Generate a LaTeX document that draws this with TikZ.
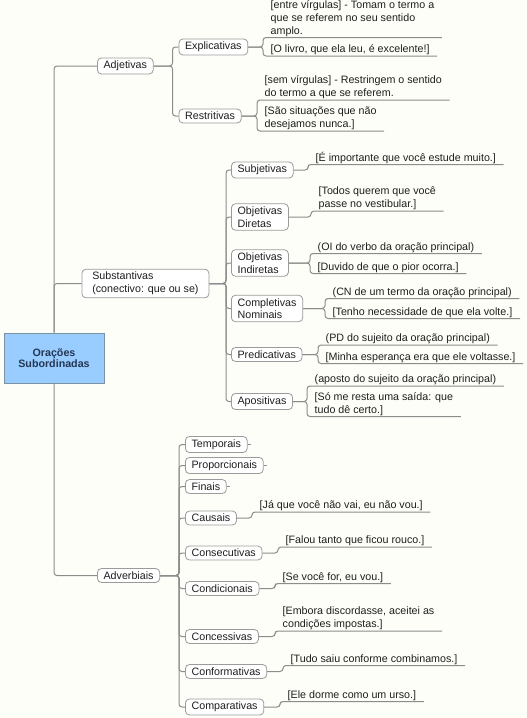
\documentclass[tikz,border=0pt]{standalone}
\usepackage{fontspec}
\setmainfont{Liberation Sans}
\definecolor{paper}{RGB}{254,254,248}
\definecolor{ink}{RGB}{30,30,30}
\definecolor{linegray}{RGB}{140,140,140}
\definecolor{boxgray}{RGB}{155,155,155}
\definecolor{rootblue}{RGB}{153,204,255}
\definecolor{rootline}{RGB}{125,145,165}
\definecolor{rootink}{RGB}{35,55,85}
\tikzset{
	topic/.style={draw=boxgray, fill=white, rounded corners=4pt, line width=.8pt, inner xsep=6.2pt, inner ysep=3pt, align=left, anchor=west, text=ink},
	leaf/.style={inner xsep=7.5pt, inner ysep=1pt, align=left, anchor=south west, text=ink},
	branch/.style={draw=linegray, line width=1pt, rounded corners=3pt},
}

\begin{document}
\begin{tikzpicture}[x=1pt,y=-1pt,font=\fontsize{10.7}{12.6}\selectfont]
	\fill[paper] (0,0) rectangle (527,718);
	\useasboundingbox (0,0) rectangle (527,718);

	\node[draw=rootline, fill=rootblue, line width=.8pt, minimum width=100pt, minimum height=50pt, align=center, text=rootink, font=\fontsize{10.7}{11.5}\selectfont\bfseries] (root) at (54,358) {Orações\\Subordinadas};

	\node[topic] (adj) at (97,66) {Adjetivas};
	\node[topic, minimum width=127pt] (subst) at (81.5,283.5) {Substantivas\\(conectivo: que ou se)};
	\node[topic] (adv) at (97,575.5) {Adverbiais};

	% adjetivas
	\node[topic] (expl) at (178.5,47) {Explicativas};
	\node[topic] (restr) at (178.5,116) {Restritivas};
	\node[leaf] (expla) at (263,37.5) {[entre vírgulas] - Tomam o termo a\\que se referem no seu sentido\\amplo.};
	\node[leaf] (explb) at (263,56) {[O livro, que ela leu, é excelente!]};
	\node[leaf] (restra) at (257,100) {[sem vírgulas] - Restringem o sentido\\do termo a que se referem.};
	\node[leaf] (restrb) at (257,131) {[São situações que não\\desejamos nunca.]};

	% substantivas
	\node[topic] (subj) at (231,170) {Subjetivas};
	\node[topic] (objd) at (231,217) {Objetivas\\Diretas};
	\node[topic] (obji) at (231,263) {Objetivas\\Indiretas};
	\node[topic] (compn) at (231,308.5) {Completivas\\Nominais};
	\node[topic] (pred) at (231,354.5) {Predicativas};
	\node[topic] (apos) at (231,401.5) {Apositivas};
	\node[leaf] (subja) at (308,164.5) {[É importante que você estude muito.]};
	\node[leaf] (objda) at (311,211) {[Todos querem que você\\passe no vestibular.]};
	\node[leaf] (objia) at (310,253.5) {(OI do verbo da oração principal)};
	\node[leaf] (objib) at (310,273.5) {[Duvido de que o pior ocorra.]};
	\node[leaf] (compna) at (325,298.5) {(CN de um termo da oração principal)};
	\node[leaf] (compnb) at (325,318.5) {[Tenho necessidade de que ela volte.]};
	\node[leaf] (preda) at (318,345) {(PD do sujeito da oração principal)};
	\node[leaf] (predb) at (318,363.5) {[Minha esperança era que ele voltasse.]};
	\node[leaf] (aposa) at (307,386) {(aposto do sujeito da oração principal)};
	\node[leaf] (aposb) at (307,416.5) {[Só me resta uma saída: que\\tudo dê certo.]};

	% adverbiais
	\node[topic] (temp) at (185,444.5) {Temporais};
	\node[topic] (prop) at (185,465.5) {Proporcionais};
	\node[topic] (fin) at (185,486.5) {Finais};
	\node[topic] (caus) at (185,518) {Causais};
	\node[topic] (cons) at (185,553) {Consecutivas};
	\node[topic] (cond) at (185,588.5) {Condicionais};
	\node[topic] (conc) at (185,636.5) {Concessivas};
	\node[topic] (conf) at (185,671.5) {Conformativas};
	\node[topic] (comp) at (185,707) {Comparativas};
	\node[leaf] (causa) at (252,512) {[Já que você não vai, eu não vou.]};
	\node[leaf] (consa) at (278,547) {[Falou tanto que ficou rouco.]};
	\node[leaf] (conda) at (275,583.5) {[Se você for, eu vou.]};
	\node[leaf] (conca) at (275,631) {[Embora discordasse, aceitei as\\condições impostas.]};
	\node[leaf] (confa) at (283,665.5) {[Tudo saiu conforme combinamos.]};
	\node[leaf] (compa) at (280,701.5) {[Ele dorme como um urso.]};

	% connectors
	\draw[branch] (root.north) |- (adj.west);
	\draw[branch] (root.north) |- (subst.west);
	\draw[branch] (root.south) |- (adv.west);
	\foreach \c in {expl,restr}
		\draw[branch] (adj.east) -| ([xshift=-6pt]\c.west) -- (\c.west);
	\foreach \c in {subj,objd,obji,compn,pred,apos}
		\draw[branch] (subst.east) -| ([xshift=-5pt]\c.west) -- (\c.west);
	\foreach \c in {temp,prop,fin,caus,cons,cond,conc,conf,comp}
		\draw[branch] (adv.east) -| ([xshift=-6pt]\c.west) -- (\c.west);
	\foreach \c in {temp,prop,fin}
		\draw[branch] (\c.east) -- ++(3,0);
	\foreach \p/\l in {expl/expla,expl/explb,restr/restra,restr/restrb,subj/subja,objd/objda,obji/objia,obji/objib,compn/compna,compn/compnb,pred/preda,pred/predb,apos/aposa,apos/aposb,caus/causa,cons/consa,cond/conda,conc/conca,conf/confa,comp/compa}
		\draw[branch] (\p.east) -| (\l.south west) -- (\l.south east);
\end{tikzpicture}
\end{document}
